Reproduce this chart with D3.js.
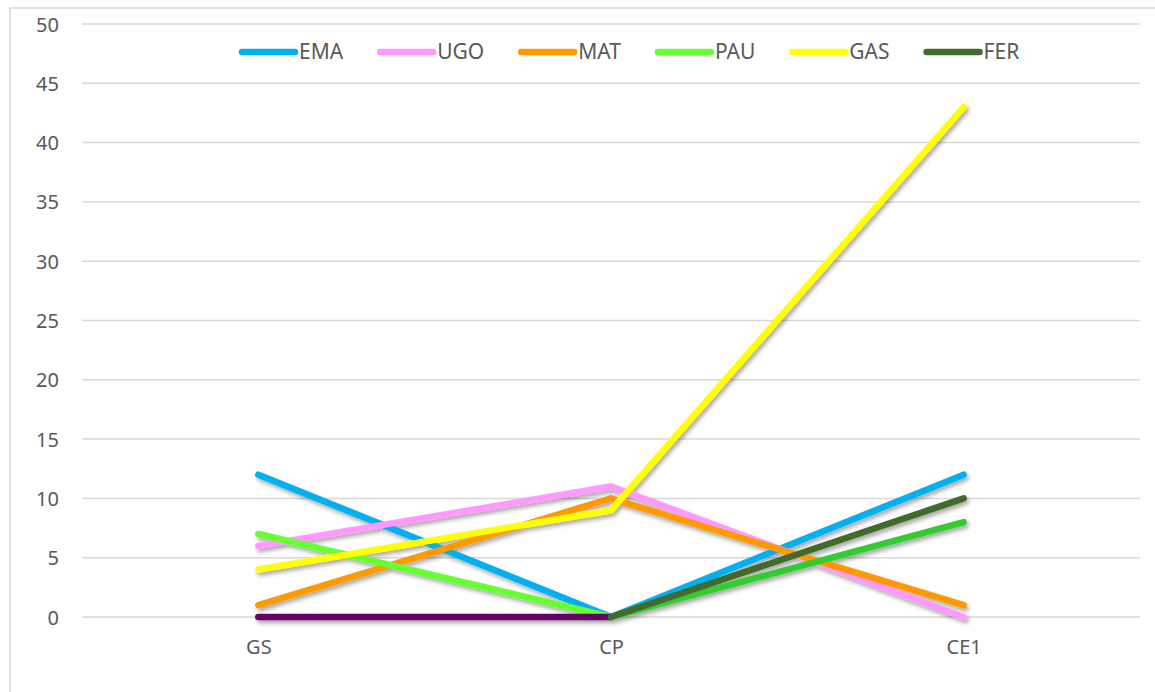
<!DOCTYPE html>
<html>
<head>
<meta charset="utf-8">
<script src="https://cdn.jsdelivr.net/npm/d3@7"></script>
<style>
  body { margin: 0; background: #fff; }
  text { font-family: "Noto Sans", "Open Sans", sans-serif; fill: #595959; }
</style>
</head>
<body>
<svg id="chart" width="1155" height="692"></svg>
<script>
// data
let categories = ['GS', 'CP', 'CE1'];
let seriesNames = ['EMA', 'UGO', 'MAT', 'PAU', 'GAS', 'FER'];
let EMA = [12, 0, 12];
let UGO = [6, 11, 0];
let MAT = [1, 10, 1];
let PAU = [7, 0, 8];
let GAS = [4, 9, 43];
let FER = [0, 0, 10];
let yTicks = [0, 5, 10, 15, 20, 25, 30, 35, 40, 45, 50];

// legend colour, and a colour for each segment (some points are recoloured)
let legendColors = ['#00B0F0', '#FF99FF', '#FF9900', '#66FF33', '#FFFF00', '#426B2C'];
let segmentColors = [
	['#00B0F0', '#00B0F0'],
	['#FF99FF', '#FF99FF'],
	['#FF9900', '#FF9900'],
	['#66FF33', '#33CC33'],
	['#FFFF00', '#FFFF00'],
	['#660066', '#426B2C']
];
let allValues = [EMA, UGO, MAT, PAU, GAS, FER];

let svg = d3.select('#chart');
let margin = {left: 82, right: 15, top: 24, bottom: 75};

// outer frame
svg.append('rect')
	.attr('x', 10).attr('y', 8)
	.attr('width', 1170).attr('height', 720)
	.attr('fill', 'none')
	.attr('stroke', '#D9D9D9')
	.attr('stroke-width', 1.5);

let defs = svg.append('defs');
let shadow = defs.append('filter').attr('id', 'shadow')
	.attr('x', '-10%').attr('y', '-10%').attr('width', '120%').attr('height', '130%');
shadow.append('feDropShadow')
	.attr('dx', 2).attr('dy', 3).attr('stdDeviation', 2.2)
	.attr('flood-color', '#000').attr('flood-opacity', 0.35);

let x = d3.scalePoint()
	.domain(categories)
	.range([margin.left, 1140])
	.padding(0.5);
let y = d3.scaleLinear()
	.domain([0, 50])
	.range([617, margin.top]);

// gridlines
svg.append('g')
	.selectAll('line')
	.data(yTicks)
	.join('line')
	.attr('x1', margin.left).attr('x2', 1140)
	.attr('y1', d => y(d)).attr('y2', d => y(d))
	.attr('stroke', '#D9D9D9')
	.attr('stroke-width', 1.5);

// y axis
let yAxis = svg.append('g')
	.attr('transform', 'translate(59,0)')
	.call(d3.axisLeft(y).tickValues(yTicks).tickSize(0).tickPadding(0));
yAxis.select('.domain').remove();
yAxis.selectAll('text')
	.attr('dy', '0.35em')
	.style('font-size', '20px')
	.style('font-family', '"Noto Sans", sans-serif')
	.attr('fill', '#595959');

// x axis
let xAxis = svg.append('g')
	.attr('transform', 'translate(0,640)')
	.call(d3.axisBottom(x).tickSize(0).tickPadding(0));
xAxis.select('.domain').remove();
xAxis.selectAll('text')
	.attr('dy', '0.7em')
	.style('font-size', '20px')
	.style('font-family', '"Noto Sans", sans-serif')
	.attr('fill', '#595959');

// lines, drawn segment by segment
let lines = svg.append('g').attr('filter', 'url(#shadow)');
allValues.forEach(function(vals, s) {
	let segs = [];
	for (let i = 0; i < vals.length - 1; i++) {
		segs.push({a: i, b: i + 1, color: segmentColors[s][i]});
	}
	let g = lines.append('g');
	g.selectAll('line')
		.data(segs)
		.join('line')
		.attr('x1', d => x(categories[d.a]))
		.attr('y1', d => y(vals[d.a]))
		.attr('x2', d => x(categories[d.b]))
		.attr('y2', d => y(vals[d.b]))
		.attr('stroke', d => d.color)
		.attr('stroke-width', 6.5)
		.attr('stroke-linecap', 'round');
});

// legend
let lx = 242;
seriesNames.forEach(function(name, i) {
	let item = svg.append('g').attr('transform', 'translate(' + lx + ',52)');
	item.append('line')
		.attr('x1', 0).attr('x2', 53)
		.attr('stroke', legendColors[i])
		.attr('stroke-width', 6.5)
		.attr('stroke-linecap', 'round');
	let t = item.append('text')
		.attr('x', 57)
		.attr('dy', '0.35em')
		.style('font-size', '21px')
		.text(name);
	lx += 57 + t.node().getComputedTextLength() + 37;
});
</script>
</body>
</html>
